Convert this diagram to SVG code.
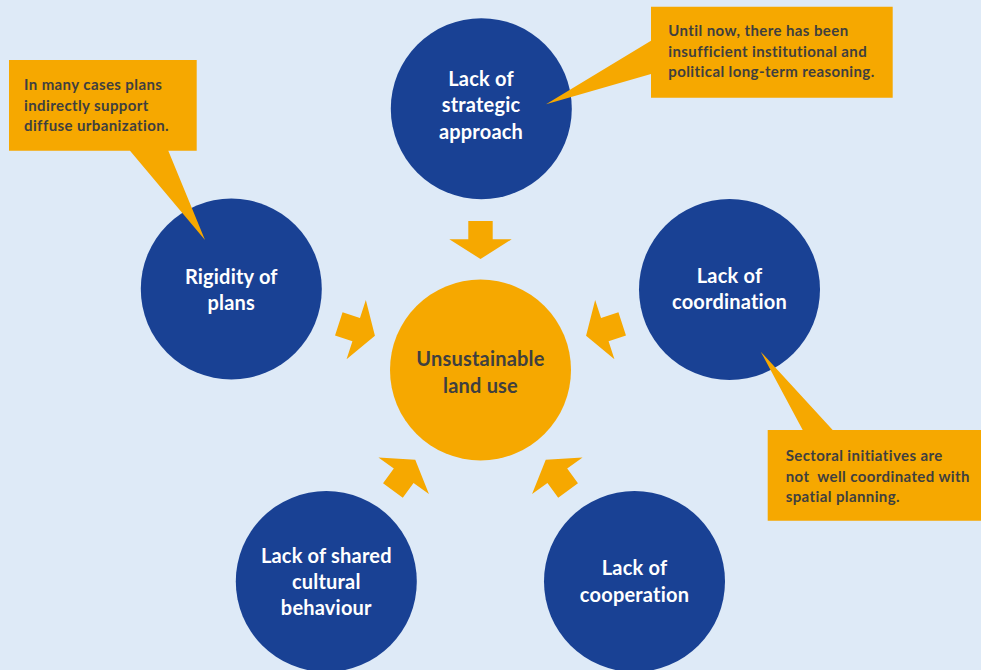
<svg xmlns="http://www.w3.org/2000/svg" width="981" height="670" viewBox="0 0 981 670">
  <defs>
    <style>
      .bg { fill: #DEEAF7; }
      .cause { fill: #194194; }
      .core { fill: #F6A800; }
      .note { fill: #F6A800; }
      .arrow { fill: #F6A800; }
      .cause-text { font-family: Lato, "Open Sans", sans-serif; font-weight: 700; font-size: 20px; letter-spacing: 0.2px; fill: #FFFFFF; text-anchor: middle; }
      .core-text { font-family: Lato, "Open Sans", sans-serif; font-weight: 700; font-size: 20px; letter-spacing: 0.2px; fill: #3F3F3F; text-anchor: middle; }
      .note-text { font-family: Lato, "Open Sans", sans-serif; font-weight: 700; font-size: 15px; letter-spacing: 0.4px; fill: #3F3F3F; }
    </style>
    <!-- block arrow pointing down at the core circle, rotated into place for each cause -->
    <polygon id="block-arrow" points="468.3,221 492.7,221 492.7,239.3 511.7,239.3 480.5,259 449.3,239.3 468.3,239.3"/>
  </defs>

  <rect class="bg" x="0" y="0" width="981" height="670"/>

  <!-- connectors: block arrows into the core -->
  <g id="connectors" class="arrow">
    <use href="#block-arrow"/>
    <use href="#block-arrow" transform="rotate(-72 480.5 370)"/>
    <use href="#block-arrow" transform="rotate(72 480.5 370)"/>
    <use href="#block-arrow" transform="rotate(-144 480.5 370)"/>
    <use href="#block-arrow" transform="rotate(144 480.5 370)"/>
  </g>

  <g id="core">
    <circle class="core" cx="480.5" cy="370" r="90.5"/>
    <text class="core-text" x="480.5" y="366">Unsustainable</text>
    <text class="core-text" x="480.5" y="392.5">land use</text>
  </g>

  <g id="strategic">
    <circle class="cause" cx="481.3" cy="108.7" r="90.5"/>
    <text class="cause-text" x="481" y="86">Lack of</text>
    <text class="cause-text" x="481" y="112">strategic</text>
    <text class="cause-text" x="481" y="138.5">approach</text>
  </g>

  <g id="rigidity">
    <circle class="cause" cx="231.3" cy="289" r="90.5"/>
    <text class="cause-text" x="231.3" y="283.5">Rigidity of</text>
    <text class="cause-text" x="231.3" y="310">plans</text>
  </g>

  <g id="coordination">
    <circle class="cause" cx="729.5" cy="289.5" r="90.5"/>
    <text class="cause-text" x="729.5" y="282.5">Lack of</text>
    <text class="cause-text" x="729.5" y="308.5">coordination</text>
  </g>

  <g id="culture">
    <circle class="cause" cx="326.3" cy="581.5" r="90.5"/>
    <text class="cause-text" x="326.3" y="562.7">Lack of shared</text>
    <text class="cause-text" x="326.3" y="588.5">cultural</text>
    <text class="cause-text" x="326.3" y="615">behaviour</text>
  </g>

  <g id="cooperation">
    <circle class="cause" cx="634.5" cy="581.5" r="90.5"/>
    <text class="cause-text" x="634.5" y="575">Lack of</text>
    <text class="cause-text" x="634.5" y="601.5">cooperation</text>
  </g>

  <!-- callout notes -->
  <g id="note-plans">
    <polygon class="note" points="9,60 196.7,60 196.7,150.7 168.3,150.7 205,240 130,150.7 9,150.7"/>
    <text class="note-text" x="24" y="90">In many cases plans</text>
    <text class="note-text" x="24" y="110.5">indirectly support</text>
    <text class="note-text" x="24" y="131">diffuse urbanization.</text>
  </g>

  <g id="note-strategy">
    <polygon class="note" points="651,6.7 892.7,6.7 892.7,97.7 651,97.7 651,74 546,104.3 651,40.7"/>
    <text class="note-text" x="668.3" y="36">Until now, there has been</text>
    <text class="note-text" x="668.3" y="56.5">insufficient institutional and</text>
    <text class="note-text" x="668.3" y="77">political long-term reasoning.</text>
  </g>

  <g id="note-sectoral">
    <polygon class="note" points="767.7,430 802.7,430 760.7,351.7 832.7,430 981,430 981,520.7 767.7,520.7"/>
    <text class="note-text" x="785.7" y="460.7">Sectoral initiatives are</text>
    <text class="note-text" x="785.7" y="481.5" xml:space="preserve">not  well coordinated with</text>
    <text class="note-text" x="785.7" y="502.3">spatial planning.</text>
  </g>
</svg>
